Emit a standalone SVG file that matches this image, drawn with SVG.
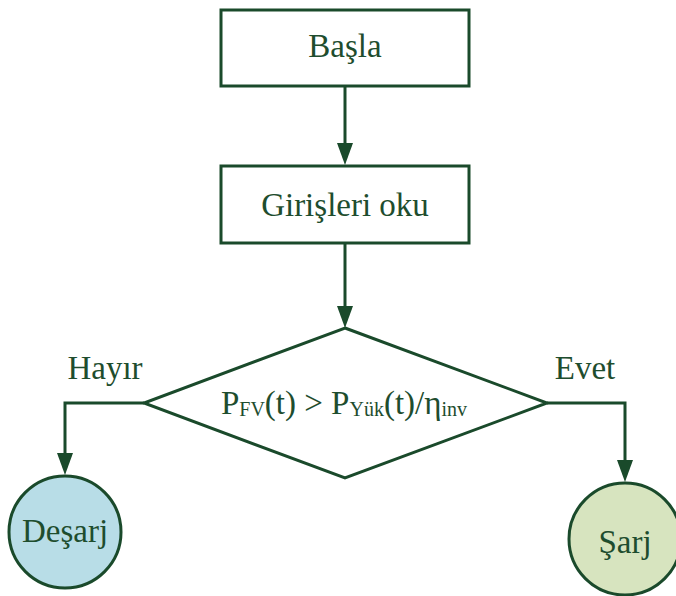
<svg xmlns="http://www.w3.org/2000/svg" width="676" height="596" viewBox="0 0 676 596">
  <style>
    .box { fill: #ffffff; stroke: #1a4a2b; stroke-width: 3; }
    .line { fill: none; stroke: #1a4a2b; stroke-width: 3; }
    .head { fill: #1a4a2b; }
    text { fill: #1e4d2e; font-size: 33px; text-anchor: middle; }
    .sub { font-size: 20px; }
  </style>
  <rect width="676" height="596" fill="#ffffff"/>

  <g font-family="Liberation Serif, Times New Roman, serif">
  <g id="connectors">
    <path class="line" d="M345,86 V143"/>
    <path class="head" d="M337,143 L353,143 L345,165 Z"/>
    <path class="line" d="M345,243 V306"/>
    <path class="head" d="M337,306 L353,306 L345,328 Z"/>
    <path class="line" d="M144,403 H65 V453"/>
    <path class="head" d="M57,453 L73,453 L65,475 Z"/>
    <path class="line" d="M547,403 H625 V460"/>
    <path class="head" d="M617,460 L633,460 L625,482 Z"/>
    <text x="105" y="379">Hayır</text>
    <text x="585" y="379">Evet</text>
  </g>

  <g id="start">
    <rect class="box" x="221" y="10" width="248" height="76"/>
    <text x="345" y="57">Başla</text>
  </g>

  <g id="read-inputs">
    <rect class="box" x="221" y="166" width="248" height="77"/>
    <text x="345" y="216">Girişleri oku</text>
  </g>

  <g id="decision">
    <polygon class="box" points="345,328 547,403 345,478 144,403"/>
    <text x="344" y="414">P<tspan class="sub" dy="2">FV</tspan><tspan dy="-2">(t) &gt; P</tspan><tspan class="sub" dy="2">Yük</tspan><tspan dy="-2">(t)/η</tspan><tspan class="sub" dy="2">inv</tspan></text>
  </g>

  <g id="discharge">
    <circle cx="65" cy="532" r="56" fill="#b8dde7" stroke="#1a4a2b" stroke-width="3"/>
    <text x="65" y="542">Deşarj</text>
  </g>

  <g id="charge">
    <circle cx="625" cy="539" r="56" fill="#d7e4bf" stroke="#1a4a2b" stroke-width="3"/>
    <text x="625" y="553">Şarj</text>
  </g>
  </g>
</svg>
